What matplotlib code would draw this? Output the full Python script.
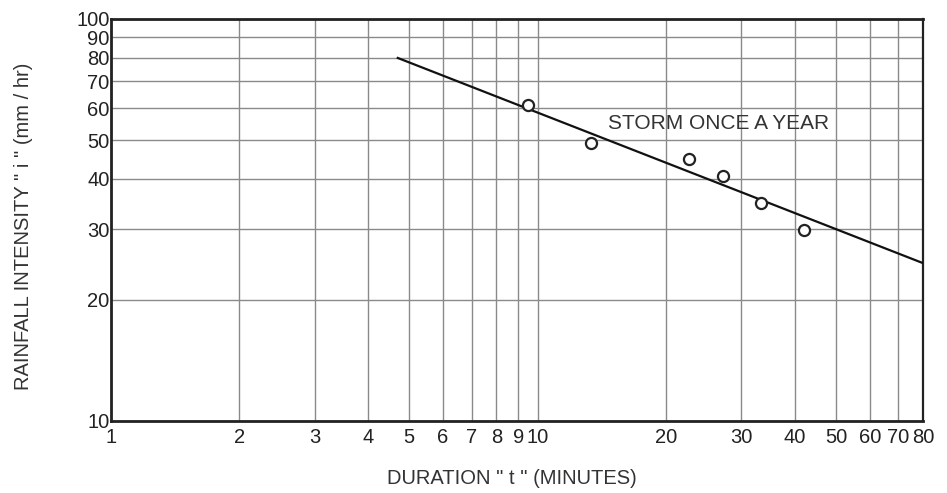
import matplotlib
matplotlib.use("Agg")
import matplotlib.pyplot as plt
from matplotlib.ticker import FixedLocator, NullLocator

plt.rcParams['font.family'] = ['Liberation Sans', 'DejaVu Sans']

# observed storm intensities
duration_min = [9.5, 13.3, 22.6, 27.2, 33.4, 42.0]
intensity_mmhr = [61, 49.2, 44.8, 40.6, 34.8, 29.9]

# fitted once-a-year curve (end points)
fit_t = [4.7, 80]
fit_i = [80, 24.7]

x_ticks = [1, 2, 3, 4, 5, 6, 7, 8, 9, 10, 20, 30, 40, 50, 60, 70, 80]
y_ticks = [10, 20, 30, 40, 50, 60, 70, 80, 90, 100]

fig = plt.figure(figsize=(9.47, 4.93), dpi=100)
ax = fig.add_axes([111 / 947, 1 - 421 / 493, (923 - 111) / 947, (421 - 19) / 493])
ax.set_xscale('log')
ax.set_yscale('log')
ax.set_xlim(1, 80)
ax.set_ylim(10, 100)

ax.xaxis.set_major_locator(FixedLocator(x_ticks))
ax.yaxis.set_major_locator(FixedLocator(y_ticks))
ax.xaxis.set_minor_locator(NullLocator())
ax.yaxis.set_minor_locator(NullLocator())
ax.set_xticklabels([str(v) for v in x_ticks])
ax.set_yticklabels([str(v) for v in y_ticks])
ax.tick_params(axis='both', length=0, labelsize=14.5, colors='#222222')
ax.tick_params(axis='x', pad=5)
ax.tick_params(axis='y', pad=1)

ax.grid(True, which='major', color='#8a8a8a', linewidth=1.0)
for side in ['left', 'bottom', 'top']:
    ax.spines[side].set_linewidth(2.0)
    ax.spines[side].set_color('#222222')
ax.spines['right'].set_linewidth(1.6)
ax.spines['right'].set_color('#222222')

ax.plot(fit_t, fit_i, color='#111111', linewidth=1.6, zorder=3)
ax.plot(duration_min, intensity_mmhr, linestyle='none', marker='o', markersize=8,
        markerfacecolor='white', markeredgecolor='#222222', markeredgewidth=1.6, zorder=4)

ax.text(14.6, 55, 'STORM ONCE A YEAR', fontsize=15, color='#333333', va='center', ha='left')

fig.text(512 / 947, 1 - 478 / 493, 'DURATION " t " (MINUTES)', fontsize=14.5,
         color='#333333', ha='center', va='center')
fig.text(24 / 947, 1 - 226 / 493, 'RAINFALL INTENSITY " i " (mm / hr)', fontsize=14.5,
         color='#333333', ha='center', va='center', rotation=90)

fig.savefig('out.png', dpi=100)
